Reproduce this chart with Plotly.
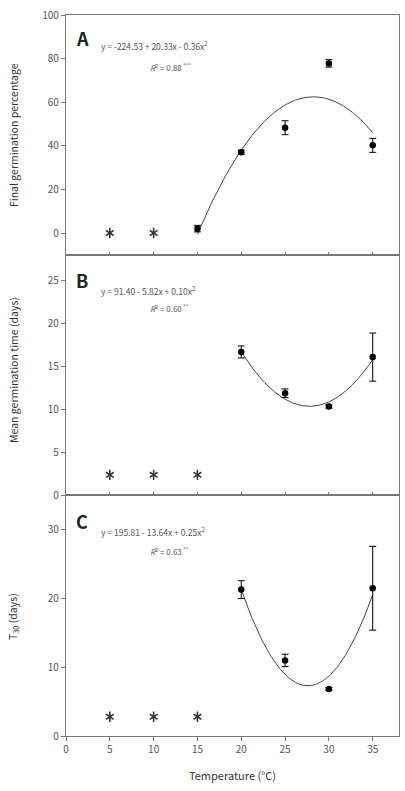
import numpy as np
import plotly.graph_objects as go

# ---------------- data ----------------
temps = [20, 25, 30, 35]
star_temps_A = [5, 10]
star_temps_BC = [5, 10, 15]

# Panel A: final germination percentage
temps_A = [15, 20, 25, 30, 35]
fgp = [2.0, 37.0, 48.3, 77.8, 40.2]
fgp_err = [1.5, 1.0, 3.2, 1.7, 3.2]
fgp_star = [0, 0]
fit_A = [-224.53, 20.33, -0.36]   # c0, c1, c2
fit_A_range = [15, 35]

# Panel B: mean germination time (days)
mgt = [16.7, 11.9, 10.35, 16.1]
mgt_err = [0.7, 0.5, 0.2, 2.8]
mgt_star = [2.4, 2.4, 2.4]
fit_B = [91.25, -5.82, 0.1047]
fit_B_range = [20, 35]

# Panel C: T30 (days)
t30 = [21.3, 11.0, 6.85, 21.5]
t30_err = [1.3, 0.9, 0.2, 6.1]
t30_star = [2.8, 2.8, 2.8]
fit_C = [191.7, -13.36, 0.242]
fit_C_range = [20, 35]

eq_texts = ["y = -224.53 + 20.33x - 0.36x<sup>2</sup>",
            "y = 91.40 - 5.82x + 0.10x<sup>2</sup>",
            "y = 195.81 - 13.64x + 0.25x<sup>2</sup>"]
r2_values = ["0.88", "0.60", "0.63"]
sig_texts = ["***", "**", "**"]
panel_letters = ["A", "B", "C"]
y_titles = ["Final germination percentage", "Mean germination time (days)", "T<sub>30</sub> (days)"]
x_title = "Temperature (°C)"
x_ticks = [0, 5, 10, 15, 20, 25, 30, 35]
y_ticks = [[0, 20, 40, 60, 80, 100], [0, 5, 10, 15, 20, 25], [0, 10, 20, 30]]
y_ranges = [[-10, 100], [0, 28], [0, 35]]

# ---------------- figure ----------------
FONT = "Noto Sans CJK KR"
W, H = 405, 791
ML, MR, MT, MB = 66, 6, 15, 55
PW, PH = W - ML - MR, H - MT - MB

def px(x):
    return (x - ML) / PW

def py(y):
    return (H - MB - y) / PH

domains = [[0.6674, 1.0], [0.3336, 0.6674], [0.0, 0.3336]]

fig = go.Figure()

def add_panel(i, xs, ys, errs, sx, sy, coef, rng):
    xa = "x" if i == 0 else f"x{i+1}"
    ya = "y" if i == 0 else f"y{i+1}"
    xf = np.linspace(rng[0], rng[1], 200)
    yf = coef[0] + coef[1] * xf + coef[2] * xf ** 2
    fig.add_trace(go.Scatter(x=xf, y=yf, mode="lines", line=dict(color="#444", width=1),
                             xaxis=xa, yaxis=ya, showlegend=False, hoverinfo="skip"))
    fig.add_trace(go.Scatter(x=xs, y=ys, mode="markers",
                             marker=dict(color="black", size=6.5),
                             error_y=dict(type="data", array=errs, color="black", thickness=1, width=3.5),
                             xaxis=xa, yaxis=ya, showlegend=False))
    for sym in ["y-up-open", "y-down-open"]:
        fig.add_trace(go.Scatter(x=sx, y=sy, mode="markers",
                                 marker=dict(symbol=sym, size=6.5, color="#2f3440",
                                             line=dict(color="#2f3440", width=1.6)),
                                 xaxis=xa, yaxis=ya, showlegend=False))

add_panel(0, temps_A, fgp, fgp_err, star_temps_A, fgp_star, fit_A, fit_A_range)
add_panel(1, temps, mgt, mgt_err, star_temps_BC, mgt_star, fit_B, fit_B_range)
add_panel(2, temps, t30, t30_err, star_temps_BC, t30_star, fit_C, fit_C_range)

axis_line = dict(showline=True, linecolor="#777", linewidth=1.3, mirror=True, showgrid=False,
                 zeroline=False, tickcolor="#777", tickfont=dict(family=FONT, size=10, color="#555"))

layout = dict(width=W, height=H, margin=dict(l=ML, r=MR, t=MT, b=MB),
              paper_bgcolor="white", plot_bgcolor="white",
              font=dict(family=FONT, color="#444"))

for i in range(3):
    xk = "xaxis" if i == 0 else f"xaxis{i+1}"
    yk = "yaxis" if i == 0 else f"yaxis{i+1}"
    ya = "y" if i == 0 else f"y{i+1}"
    xa = "x" if i == 0 else f"x{i+1}"
    xd = dict(axis_line, range=[0, 38], domain=[0, 1], anchor=ya, tickvals=x_ticks)
    if i < 2:
        xd.update(ticks="inside", ticklen=3, showticklabels=False)
    else:
        xd.update(ticks="outside", ticklen=4, showticklabels=True)
    layout[xk] = xd
    layout[yk] = dict(axis_line, range=y_ranges[i], domain=domains[i], anchor=xa,
                      tickvals=y_ticks[i], ticks="outside", ticklen=4)

fig.update_layout(**layout)

letter_y = [38, 280, 521]
eq_y = [46, 290, 531]
r2_base = [73, 314, 557]   # baseline of the R² line
title_y = [135, 370, 617]

for i in range(3):
    fig.add_annotation(x=px(82), y=py(letter_y[i]), xref="paper", yref="paper", text=f"<b>{panel_letters[i]}</b>",
                       showarrow=False, font=dict(family=FONT, size=18, color="#222"), xanchor="center", yanchor="middle")
    fig.add_annotation(x=px(99), y=py(eq_y[i]), xref="paper", yref="paper", text=eq_texts[i],
                       showarrow=False, font=dict(family=FONT, size=8.5, color="#555"), xanchor="left", yanchor="middle")
    r2_text = f"<i>R</i><sup>2</sup> = {r2_values[i]}<sup> {sig_texts[i]}</sup>"
    fig.add_annotation(x=px(148), y=py(r2_base[i] + 2), xref="paper", yref="paper", text=r2_text,
                       showarrow=False, font=dict(family=FONT, size=8, color="#555"), xanchor="left", yanchor="bottom")
    fig.add_annotation(x=px(13), y=py(title_y[i]), xref="paper", yref="paper", text=y_titles[i], textangle=-90,
                       showarrow=False, font=dict(family=FONT, size=10.5, color="#333"), xanchor="center", yanchor="middle")

fig.add_annotation(x=px(232), y=py(775), xref="paper", yref="paper", text=x_title,
                   showarrow=False, font=dict(family=FONT, size=11, color="#333"), xanchor="center", yanchor="middle")

fig.write_html("out.html")
